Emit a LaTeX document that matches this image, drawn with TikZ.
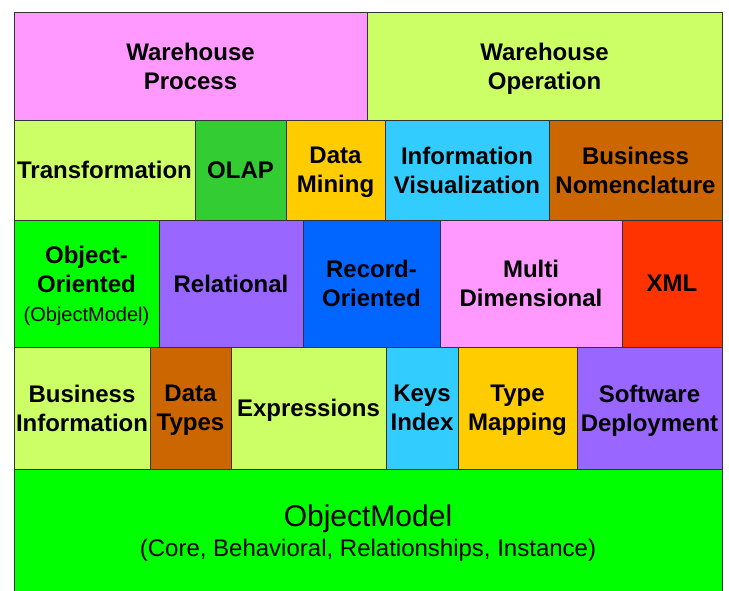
\documentclass[tikz,border=0pt]{standalone}
\usepackage{fontspec}
\setmainfont{Liberation Sans}
\usetikzlibrary{positioning}
\definecolor{rose}{HTML}{FF99FF}
\definecolor{lime}{HTML}{CCFF66}
\definecolor{leaf}{HTML}{33CC33}
\definecolor{gold}{HTML}{FFCC00}
\definecolor{sky}{HTML}{33CCFF}
\definecolor{rust}{HTML}{CC6600}
\definecolor{neon}{HTML}{00FF00}
\definecolor{violet}{HTML}{9966FF}
\definecolor{royal}{HTML}{0066FF}
\definecolor{flame}{HTML}{FF3300}

\begin{document}
\begin{tikzpicture}[x=1pt,y=-1pt,node distance=0pt,
  box/.style={draw=black!80,line width=1pt,inner sep=0pt,outer sep=0pt,align=center,
    text depth=0pt,font=\bfseries\fontsize{24}{29}\selectfont}]

\useasboundingbox (0,0) rectangle (729,590);

% row 1
\node[box,fill=rose,minimum width=353pt,minimum height=108pt,anchor=north west] (wproc) at (14,12) {Warehouse\\Process};
\node[box,fill=lime,minimum width=355pt,minimum height=108pt] (wop) [right=of wproc] {Warehouse\\Operation};

% row 2
\node[box,fill=lime,minimum width=181pt,minimum height=100pt,anchor=north west] (trans) at (wproc.south west) {Transformation};
\node[box,fill=leaf,minimum width=91pt,minimum height=100pt] (olap) [right=of trans] {OLAP};
\node[box,fill=gold,minimum width=99pt,minimum height=100pt] (mining) [right=of olap] {Data\\Mining};
\node[box,fill=sky,minimum width=164pt,minimum height=100pt] (infovis) [right=of mining] {Information\\Visualization};
\node[box,fill=rust,minimum width=173pt,minimum height=100pt] (nomen) [right=of infovis] {Business\\Nomenclature};

% row 3
\node[box,fill=neon,minimum width=145pt,minimum height=127pt,anchor=north west] (oo) at (trans.south west)
  {Object-\\Oriented\\{\mdseries\fontsize{20}{28}\selectfont (ObjectModel)}};
\node[box,fill=violet,minimum width=144pt,minimum height=127pt] (rel) [right=of oo] {Relational};
\node[box,fill=royal,minimum width=137pt,minimum height=127pt] (rec) [right=of rel] {Record-\\Oriented};
\node[box,fill=rose,minimum width=182pt,minimum height=127pt] (multi) [right=of rec] {Multi\\Dimensional};
\node[box,fill=flame,minimum width=100pt,minimum height=127pt] (xml) [right=of multi] {XML};

% row 4
\node[box,fill=lime,minimum width=136pt,minimum height=122pt,anchor=north west] (businfo) at (oo.south west) {Business\\Information};
\node[box,fill=rust,minimum width=81pt,minimum height=122pt] (dtypes) [right=of businfo] {Data\\Types};
\node[box,fill=lime,minimum width=155pt,minimum height=122pt] (expr) [right=of dtypes] {Expressions};
\node[box,fill=sky,minimum width=72pt,minimum height=122pt] (keys) [right=of expr] {Keys\\Index};
\node[box,fill=gold,minimum width=119pt,minimum height=122pt] (tmap) [right=of keys] {Type\\Mapping};
\node[box,fill=violet,minimum width=145pt,minimum height=122pt] (deploy) [right=of tmap] {Software\\Deployment};

% base
\node[box,fill=neon,minimum width=708pt,minimum height=123pt,anchor=north west,
  font=\mdseries\fontsize{24}{30}\selectfont] (core) at (businfo.south west)
  {{\fontsize{30}{30}\selectfont ObjectModel}\\(Core, Behavioral, Relationships, Instance)};

\end{tikzpicture}
\end{document}
